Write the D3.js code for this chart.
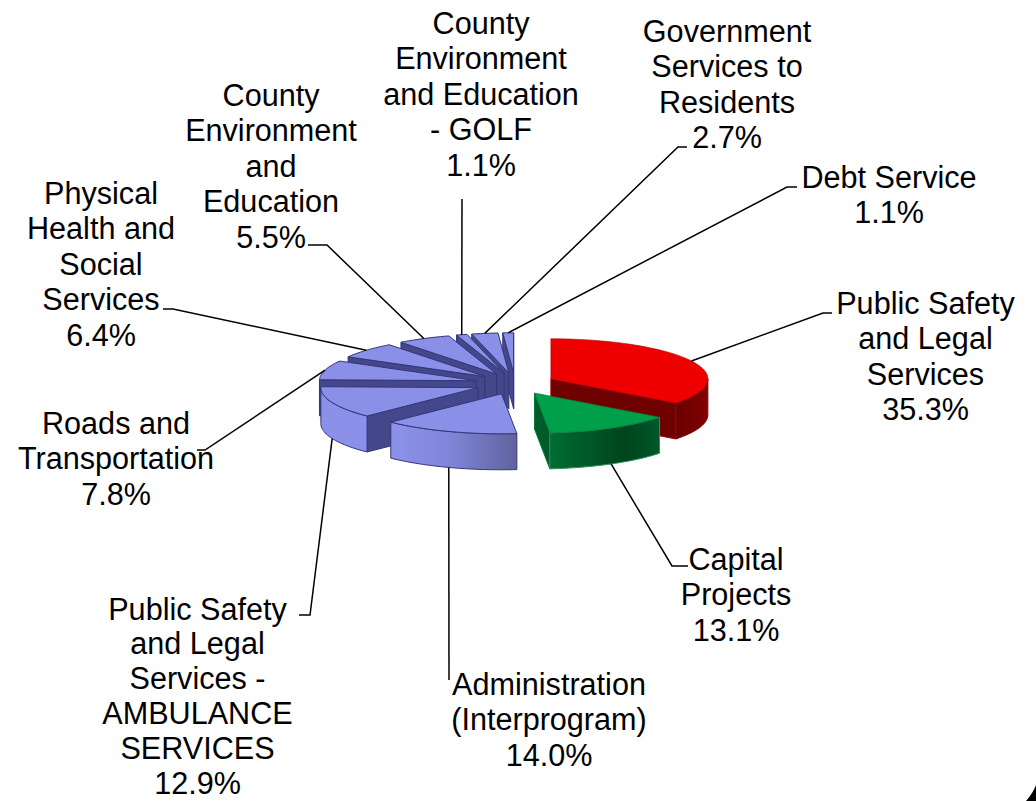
<!DOCTYPE html>
<html>
<head>
<meta charset="utf-8">
<script src="https://cdn.jsdelivr.net/npm/d3@7/dist/d3.min.js"></script>
<style>
html,body{margin:0;padding:0;background:#fff;}
svg{display:block;}
text{font-family:"Liberation Sans",Arial,sans-serif;fill:#000;}
</style>
</head>
<body>
<svg id="chart" width="1036" height="801"></svg>
<script>
// Budget shares, clockwise from twelve o'clock
const categories = [
  "Public Safety and Legal Services",
  "Capital Projects",
  "Administration (Interprogram)",
  "Public Safety and Legal Services - AMBULANCE SERVICES",
  "Roads and Transportation",
  "Physical Health and Social Services",
  "County Environment and Education",
  "County Environment and Education - GOLF",
  "Government Services to Residents",
  "Debt Service"
];
const shares = [35.3, 13.1, 14.0, 12.9, 7.8, 6.4, 5.5, 1.1, 2.7, 1.1];
const labelLines = [
  ["Public Safety", "and Legal", "Services", "35.3%"],
  ["Capital", "Projects", "13.1%"],
  ["Administration", "(Interprogram)", "14.0%"],
  ["Public Safety", "and Legal", "Services -", "AMBULANCE", "SERVICES", "12.9%"],
  ["Roads and", "Transportation", "7.8%"],
  ["Physical", "Health and", "Social", "Services", "6.4%"],
  ["County", "Environment", "and", "Education", "5.5%"],
  ["County", "Environment", "and Education", "- GOLF", "1.1%"],
  ["Government", "Services to", "Residents", "2.7%"],
  ["Debt Service", "1.1%"]
];
const palettes = ["red", "green", "slate", "slate", "slate", "slate", "slate", "slate", "slate", "slate"];

// Layout of the tilted pie
const cx = 515, cy = 383.6, rx = 157, ry = 40, depth = 36, explode = 0.255;
const fontSize = 30.6;
const labelAnchors = [[925.5, 314], [736, 570], [549, 695], [197.5, 619.5], [116, 434], [101, 204], [271, 106], [481, 34], [727, 42], [889, 188]];
// The six-line label is set slightly tighter so it stays inside the page
const labelLeading = [35.4, 35.4, 35.4, 34.8, 35.4, 35.4, 35.4, 35.4, 35.4, 35.4];
const leaderBends = [
  [[823, 313], [832, 313]],
  [[672, 566], [688, 566]],
  [[449, 680]],
  [[310, 615], [299, 615]],
  [[205, 450], [197, 450]],
  [[173, 309], [163, 309]],
  [[327, 245], [308, 245]],
  [[462, 199]],
  [[678, 147], [687, 147]],
  [[787, 187], [797, 187]]
];
// Rim shading runs across the whole pie in page coordinates
const styles = {
  red:   {top: "#ee0000", edge: "#b00000", wall: "#6f0000", outline: "#8a0000",
          rim: [[660, "#5e0000"], [720, "#8a0000"]]},
  green: {top: "#00a04a", edge: "#007a38", wall: "#005a2a", outline: "#2f8f5a",
          rim: [[550, "#006c32"], [625, "#00441e"], [660, "#00582a"]]},
  slate: {top: "#8a8fe8", edge: "#34367a", wall: "#44478a", outline: "#34367a",
          rim: [[400, "#8b90e8"], [450, "#8085d8"], [518, "#60629c"]]}
};

const svg = d3.select("#chart");
const defs = svg.append("defs");

Object.entries(styles).forEach(([name, st]) => {
  const xs = st.rim.map(r => r[0]);
  const pos = d3.scaleLinear().domain([xs[0], xs[xs.length - 1]]).range([0, 1]);
  const grad = defs.append("linearGradient").attr("id", "rim-" + name)
    .attr("gradientUnits", "userSpaceOnUse")
    .attr("x1", xs[0]).attr("x2", xs[xs.length - 1]).attr("y1", 0).attr("y2", 0);
  st.rim.forEach(r => grad.append("stop").attr("offset", pos(r[0])).attr("stop-color", r[1]));
});

const pie = d3.pie().sort(null).value(d => d);
const arcs = pie(shares).map((a, i) => {
  const mid = (a.startAngle + a.endAngle) / 2;
  return {
    i, start: a.startAngle, end: a.endAngle, mid,
    ox: cx + explode * rx * Math.sin(mid),
    oy: cy - explode * ry * 1.06 * Math.cos(mid)
  };
});

const pt = (s, t, z = 0) => [s.ox + rx * Math.sin(t), s.oy - ry * Math.cos(t) + z];
const line = pts => "M" + pts.map(p => p.map(v => v.toFixed(2)).join(",")).join("L");

function arcPts(s, a, b, z) {
  const n = Math.max(2, Math.ceil((b - a) / 0.03));
  return d3.range(n + 1).map(k => pt(s, a + (b - a) * k / n, z));
}

// Furthest slices are painted first so nearer ones overlap them
const order = arcs.slice().sort((a, b) => Math.cos(b.mid) - Math.cos(a.mid));
const group = svg.append("g");

order.forEach(s => {
  const name = palettes[s.i];
  const st = styles[name];
  const g = group.append("g");
  const apex = [s.ox, s.oy];
  const apexLow = [s.ox, s.oy + depth];

  // Radial walls, only the ones turned towards the viewer
  if (Math.sin(s.start) < 0) {
    g.append("path")
      .attr("d", line([apex, pt(s, s.start), pt(s, s.start, depth), apexLow]) + "Z")
      .attr("fill", st.wall).attr("stroke", st.edge).attr("stroke-width", 1);
  }
  if (Math.sin(s.end) > 0) {
    g.append("path")
      .attr("d", line([apex, pt(s, s.end), pt(s, s.end, depth), apexLow]) + "Z")
      .attr("fill", st.wall).attr("stroke", st.edge).attr("stroke-width", 1);
  }

  // Curved rim across the front half of the ellipse
  const a = Math.max(s.start, Math.PI / 2), b = Math.min(s.end, Math.PI * 1.5);
  if (b > a) {
    const top = arcPts(s, a, b, 0);
    const low = arcPts(s, a, b, depth).reverse();
    g.append("path")
      .attr("d", line(top.concat(low)) + "Z")
      .attr("fill", `url(#rim-${name})`).attr("stroke", st.outline).attr("stroke-width", 1);
  }

  // Top face
  g.append("path")
    .attr("d", line([apex].concat(arcPts(s, s.start, s.end, 0))) + "Z")
    .attr("fill", st.top).attr("stroke", st.edge).attr("stroke-width", name === "slate" ? 1 : 0.6);
});

// Leader lines run from the rim at each slice's mid-angle out to its label
const leaders = svg.append("g").attr("fill", "none").attr("stroke", "#000").attr("stroke-width", 1.5);
arcs.forEach(s => {
  const z = Math.cos(s.mid) < 0 ? depth : 0;
  leaders.append("path").attr("d", line([pt(s, s.mid, z)].concat(leaderBends[s.i])));
});

// Category labels with their percentage as the last line
const labels = svg.append("g").attr("text-anchor", "middle").attr("font-size", fontSize);
labelLines.forEach((lines, i) => {
  const [x, y] = labelAnchors[i];
  const t = labels.append("text").attr("x", x).attr("y", y);
  lines.forEach((l, k) => t.append("tspan").attr("x", x).attr("y", y + k * labelLeading[i]).text(l));
});

// Rounded frame corner at the lower right
svg.append("path").attr("d", "M1036,785 Q1033,793 1026,801 L1036,801 Z").attr("fill", "#000");
</script>
</body>
</html>
